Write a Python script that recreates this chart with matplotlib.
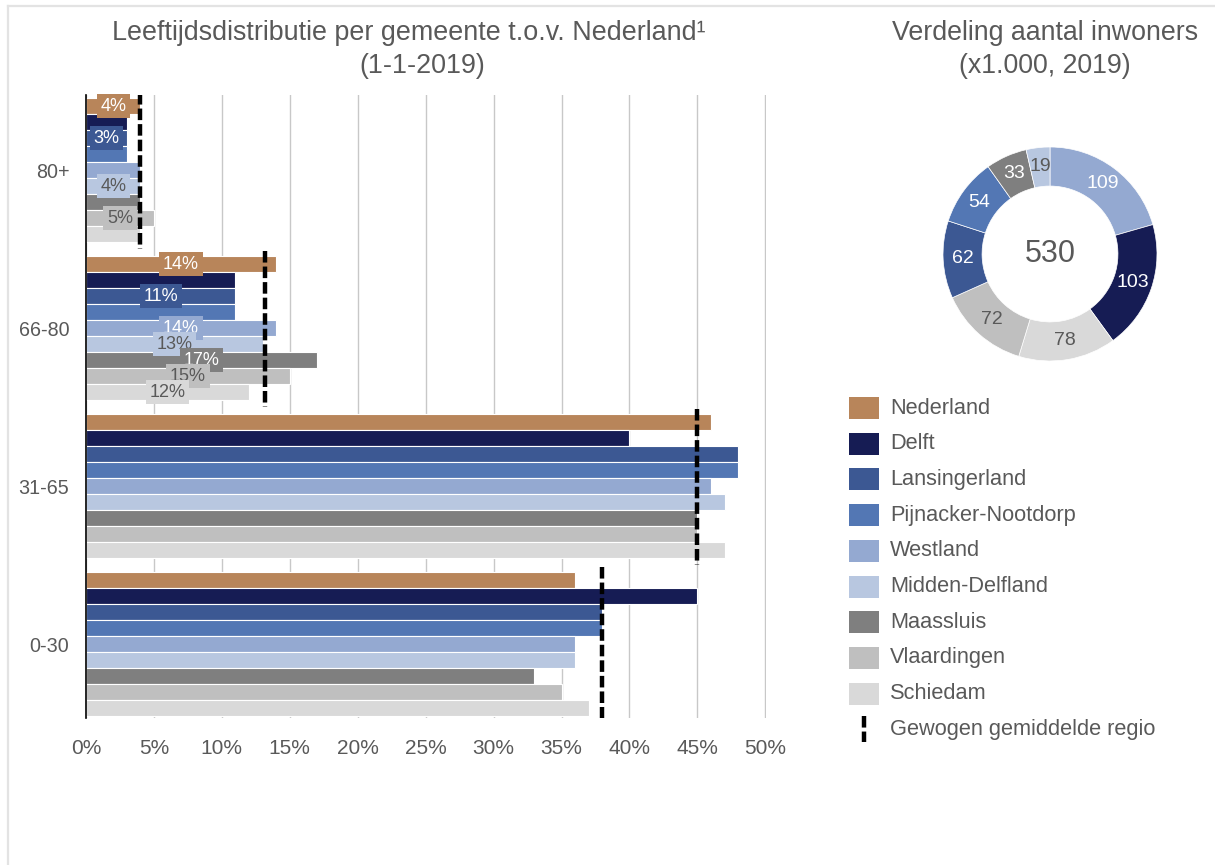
import numpy as np
import matplotlib
matplotlib.use("Agg")
import matplotlib.pyplot as plt
from matplotlib.patches import Rectangle
from matplotlib.lines import Line2D

plt.rcParams['font.family'] = ['Liberation Sans', 'DejaVu Sans']

# data
age_groups = ["80+", "66-80", "31-65", "0-30"]
series = ["Nederland", "Delft", "Lansingerland", "Pijnacker-Nootdorp", "Westland",
          "Midden-Delfland", "Maassluis", "Vlaardingen", "Schiedam"]
colors = ["#B8855A", "#161C54", "#3C5893", "#5377B4", "#94A9D1",
          "#B8C7E0", "#7F7F7F", "#BFBFBF", "#D9D9D9"]
# percentages per age group, per series (same order as series)
values = {
    "80+":   [4, 3, 3, 3, 4, 4, 4, 5, 4],
    "66-80": [14, 11, 11, 11, 14, 13, 17, 15, 12],
    "31-65": [46, 40, 48, 48, 46, 47, 45, 45, 47],
    "0-30":  [36, 45, 38, 38, 36, 36, 33, 35, 37],
}
region_avg = {"80+": 4.0, "66-80": 13.2, "31-65": 45.0, "0-30": 38.0}
# which bars carry a data label
labelled = {
    "80+":   ["Nederland", "Lansingerland", "Midden-Delfland", "Vlaardingen"],
    "66-80": ["Nederland", "Lansingerland", "Westland", "Midden-Delfland",
              "Maassluis", "Vlaardingen", "Schiedam"],
    "31-65": [],
    "0-30":  [],
}
dark_label = ["Midden-Delfland", "Vlaardingen", "Schiedam"]

pie_names = ["Westland", "Delft", "Schiedam", "Vlaardingen", "Lansingerland",
             "Pijnacker-Nootdorp", "Maassluis", "Midden-Delfland"]
pie_values = [109, 103, 78, 72, 62, 54, 33, 19]
pie_dark = ["Schiedam", "Vlaardingen", "Midden-Delfland"]
total = 530

grey = "#595959"
col = dict(zip(series, colors))

W, H = 1215, 865
fig = plt.figure(figsize=(W / 100, H / 100), dpi=100)

# thin frame on left and top
fig.add_artist(Line2D([8 / W, 8 / W], [0, 1 - 6 / H], color="#E3E3E3", lw=1.6))
fig.add_artist(Line2D([8 / W, 1], [1 - 6 / H, 1 - 6 / H], color="#E3E3E3", lw=1.6))

# ---- bar chart ----
P = 9.875
ymin, ymax = -0.2, 3 * P + 9 + 0.1
px_per_unit = 16
ax_top = 95
ax_h = (ymax - ymin) * px_per_unit
ax = fig.add_axes([86 / W, 1 - (ax_top + ax_h) / H, 680 / W, ax_h / H])

for g, grp in enumerate(age_groups):
    ys = g * P + np.arange(len(series)) + 0.5
    ax.barh(ys, values[grp], height=1.0, color=colors, edgecolor="white",
            linewidth=0.8, zorder=2)
    for i, s in enumerate(series):
        if s in labelled[grp]:
            v = values[grp][i]
            tc = grey if s in dark_label else "white"
            ax.text(v / 2, ys[i], f"{v}%", ha="center", va="center",
                    fontsize=13, color=tc, zorder=4,
                    bbox=dict(boxstyle="square,pad=0.2", fc=col[s], ec="none"))
    ax.vlines(region_avg[grp], g * P - 0.3, g * P + 9.4, color="black", lw=3.2,
              linestyles=(0, (2.6, 0.9)), zorder=5)

ax.set_xlim(0, 50.05)
ax.set_ylim(ymax, ymin)
ax.set_xticks(np.arange(0, 51, 5))
ax.set_xticklabels([f"{t}%" for t in range(0, 51, 5)])
ax.set_yticks([g * P + 4.5 for g in range(len(age_groups))])
ax.set_yticklabels(age_groups)
ax.tick_params(axis="x", length=0, colors=grey, labelsize=15, pad=15)
ax.tick_params(axis="y", length=0, colors=grey, labelsize=14.2, pad=12)
ax.grid(axis="x", color="#C8C8C8", lw=1, zorder=0)
for sp in ["top", "right", "bottom"]:
    ax.spines[sp].set_visible(False)
ax.spines["left"].set_color("black")
ax.spines["left"].set_linewidth(1.2)
ax.set_axisbelow(True)

fig.text(409 / W, 1 - 33 / H, "Leeftijdsdistributie per gemeente t.o.v. Nederland\u00b9",
         ha="center", va="center", fontsize=19.4, color=grey)
fig.text(422 / W, 1 - 66 / H, "(1-1-2019)", ha="center", va="center",
         fontsize=19.4, color=grey)

# ---- donut ----
cx, cy, r = 1050, 254, 107
side = 2.4 * r
pax = fig.add_axes([(cx - side / 2) / W, 1 - (cy + side / 2) / H, side / W, side / H])
wedges, _ = pax.pie(pie_values, colors=[col[n] for n in pie_names], startangle=90,
                    counterclock=False, radius=1.0,
                    wedgeprops=dict(width=0.365, edgecolor="white", linewidth=0.5))
ang = 90.0
for n, v in zip(pie_names, pie_values):
    sweep = 360.0 * v / sum(pie_values)
    mid = np.deg2rad(ang - sweep / 2)
    ang -= sweep
    tc = grey if n in pie_dark else "white"
    pax.text(0.82 * np.cos(mid), 0.82 * np.sin(mid), str(v), ha="center",
             va="center", fontsize=14, color=tc)
pax.text(0, 0, str(total), ha="center", va="center", fontsize=22, color=grey)
pax.set_xlim(-1.2, 1.2)
pax.set_ylim(-1.2, 1.2)
pax.set_aspect("equal")
pax.axis("off")

fig.text(1045 / W, 1 - 33 / H, "Verdeling aantal inwoners", ha="center", va="center",
         fontsize=19.3, color=grey)
fig.text(1045 / W, 1 - 66 / H, "(x1.000, 2019)", ha="center", va="center",
         fontsize=19.3, color=grey)

# ---- legend ----
y0, dy = 408, 35.7
for i, s in enumerate(series):
    yc = y0 + i * dy
    fig.add_artist(Rectangle((849 / W, 1 - (yc + 11) / H), 30 / W, 22 / H,
                             transform=fig.transFigure, fc=col[s], ec="none"))
    fig.text(890 / W, 1 - yc / H, s, ha="left", va="center", fontsize=15.7, color=grey)
yc = y0 + len(series) * dy
fig.add_artist(Line2D([864 / W, 864 / W], [1 - (yc - 13) / H, 1 - (yc + 13) / H],
                      color="black", lw=3.2, linestyle=(0, (2.6, 0.9))))
fig.text(890 / W, 1 - yc / H, "Gewogen gemiddelde regio", ha="left", va="center",
         fontsize=15.7, color=grey)

fig.savefig("out.png", dpi=100)
